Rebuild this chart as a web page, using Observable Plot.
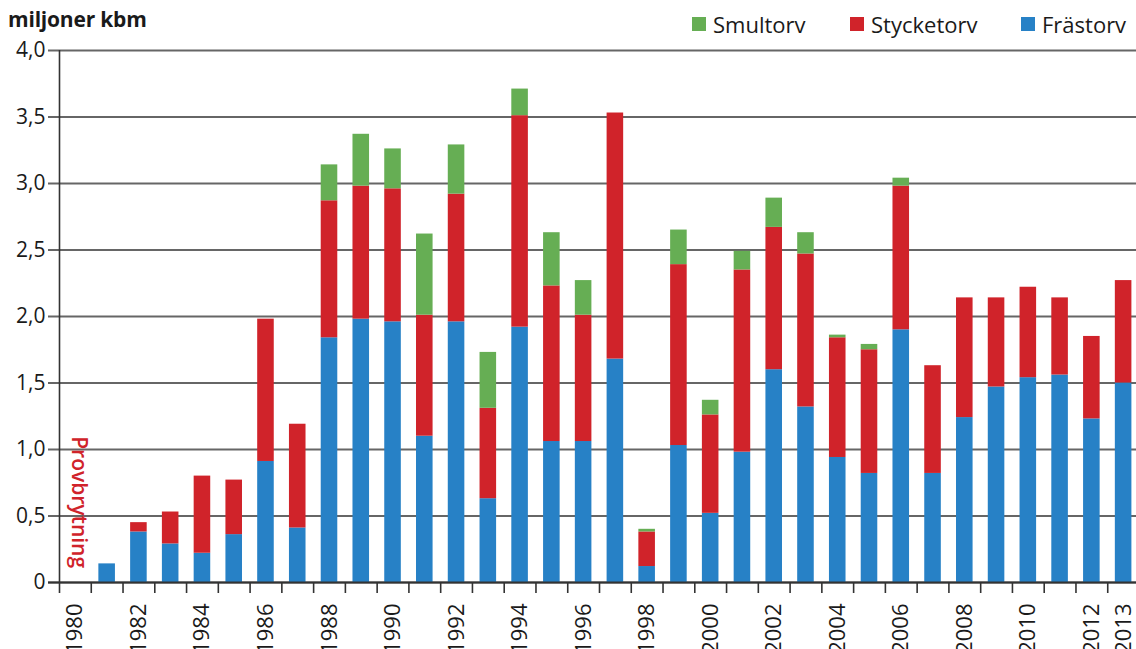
<!DOCTYPE html>
<html><head><meta charset="utf-8">
<script src="https://cdn.jsdelivr.net/npm/d3@7"></script>
<script src="https://cdn.jsdelivr.net/npm/@observablehq/plot@0.6"></script>
<style>
body{margin:0;background:#fff;font-family:"Open Sans",sans-serif;color:#1a1a1a;}
#head{position:relative;height:38px;width:1136px;}
#title{position:absolute;left:8px;top:5px;font-weight:bold;font-size:21px;line-height:28px;letter-spacing:-0.2px;}
.leg{position:absolute;top:10px;font-size:22px;line-height:28px;display:flex;align-items:center;white-space:nowrap;}
.sw{width:14px;height:14px;margin-right:7px;}
</style></head><body>
<div id="head"><div id="title">miljoner kbm</div></div>
<div id="chart"></div>
<script>
const years = [1980,1981,1982,1983,1984,1985,1986,1987,1988,1989,1990,1991,1992,1993,1994,1995,1996,1997,1998,1999,2000,2001,2002,2003,2004,2005,2006,2007,2008,2009,2010,2011,2012,2013];
const frastorv   = [0,0.14,0.38,0.29,0.22,0.36,0.91,0.41,1.84,1.98,1.96,1.10,1.96,0.63,1.92,1.06,1.06,1.68,0.12,1.03,0.52,0.98,1.60,1.32,0.94,0.82,1.90,0.82,1.24,1.47,1.54,1.56,1.23,1.50];
const stycketorv = [0,0,0.07,0.24,0.58,0.41,1.07,0.78,1.03,1.00,1.00,0.91,0.96,0.68,1.59,1.17,0.95,1.85,0.26,1.36,0.74,1.37,1.07,1.15,0.90,0.93,1.08,0.81,0.90,0.67,0.68,0.58,0.62,0.77];
const smultorv   = [0,0,0,0,0,0,0,0,0.27,0.39,0.30,0.61,0.37,0.42,0.20,0.40,0.26,0,0.02,0.26,0.11,0.14,0.22,0.16,0.02,0.04,0.06,0,0,0,0,0,0,0];
const seriesNames = ["Frästorv","Stycketorv","Smultorv"];
const seriesColors = ["#2781c6","#d0232a","#66ae54"];
const legendOrder = ["Smultorv","Stycketorv","Frästorv"];
const yTicks = [0,0.5,1,1.5,2,2.5,3,3.5,4];
const xLabelYears = [1980,1982,1984,1986,1988,1990,1992,1994,1996,1998,2000,2002,2004,2006,2008,2010,2012,2013];
const annotation = [{year:1980, value:1.1, text:"Provbrytning"}];

// legend
const legPos = {"Smultorv":692,"Stycketorv":850,"Frästorv":1021};
const head = document.getElementById("head");
legendOrder.forEach(name => {
  const d = document.createElement("div");
  d.className = "leg";
  d.style.left = legPos[name] + "px";
  const sw = document.createElement("div");
  sw.className = "sw";
  sw.style.background = seriesColors[seriesNames.indexOf(name)];
  d.appendChild(sw);
  d.appendChild(document.createTextNode(name));
  head.appendChild(d);
});

// long data with cumulative stacking
const rows = [];
years.forEach((yr, i) => {
  let base = 0;
  [frastorv, stycketorv, smultorv].forEach((arr, j) => {
    const v = arr[i];
    if (v > 0) rows.push({year: yr, series: seriesNames[j], y1: base, y2: base + v});
    base += v;
  });
});

const boundaries = years.map(y => y - 0.5).concat([years[years.length-1] + 0.5]);
const fmt = d => d === 0 ? "0" : d3.format(".1f")(d).replace(".", ",");

const chart = Plot.plot({
  width: 1136,
  height: 611,
  marginTop: 12,
  marginBottom: 67,
  marginLeft: 59,
  marginRight: -3,
  style: {fontFamily: "'Open Sans', sans-serif", fontSize: "21px", color: "#1a1a1a", overflow: "visible"},
  x: {type: "linear", domain: [1979.5, 2013.5], axis: null},
  y: {domain: [0, 4], axis: null},
  color: {domain: seriesNames, range: seriesColors},
  marks: [
    Plot.ruleY(yTicks, {x1: 1979.5, x2: 2013.5, stroke: "#666", strokeWidth: 1.8, insetLeft: -11}),
    Plot.rectY(rows, {x1: d => d.year - 0.5, x2: d => d.year + 0.5, y1: "y1", y2: "y2", fill: "series", insetLeft: 7.6, insetRight: 7.6}),
    Plot.ruleY([0], {x1: 1979.5, x2: 2013.5, stroke: "#333", strokeWidth: 1.8, insetLeft: -11}),
    Plot.ruleX([1979.5], {y1: 0, y2: 4, stroke: "#333", strokeWidth: 1.6}),
    Plot.axisY({ticks: yTicks, tickSize: 0, tickPadding: 14, tickFormat: fmt, fontSize: 21, fill: "#1a1a1a", label: null}),
    Plot.axisX({ticks: boundaries, tickSize: 11, tickFormat: () => "", stroke: "#333", strokeWidth: 1.6, label: null}),
    Plot.axisX({ticks: xLabelYears, tickSize: 0, tickPadding: 21, tickRotate: -90, tickFormat: d => String(d), fontSize: 22, fill: "#1a1a1a", label: null}),
    Plot.text(annotation, {x: "year", y: "value", text: "text", rotate: 90, textAnchor: "start", lineAnchor: "middle", dx: 3, fill: "#d0232a", fontSize: 21, fontWeight: 600})
  ]
});
document.getElementById("chart").appendChild(chart);
</script>
</body></html>
